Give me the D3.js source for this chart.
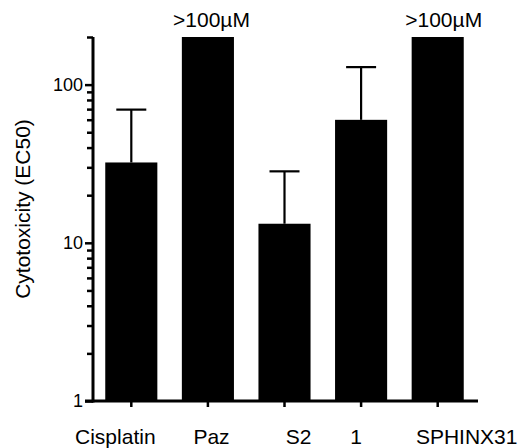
<!DOCTYPE html>
<html>
<head>
<meta charset="utf-8">
<script src="https://cdn.jsdelivr.net/npm/d3@7"></script>
<style>
html,body{margin:0;padding:0;background:#fff;}
svg{display:block;font-family:"Liberation Sans",Arial,sans-serif;}
</style>
</head>
<body>
<svg id="chart" width="520" height="448"></svg>
<script>
const categories = ["Cisplatin", "Paz", "S2", "1", "SPHINX31"];
const values = [32.2, 200, 13.2, 59.9, 200];
const errorTop = [69.5, null, 28.3, 129, null];
const overLabels = [null, ">100µM", null, null, ">100µM"];
const yTickValues = [1, 10, 100];
const yTitle = "Cytotoxicity (EC50)";

// label placement nudges (layout only)
const catLabelDx = [-16, 3.6, 14, -5, 29];
const overLabelDx = [0, 3.6, 0, 0, 6];

const svg = d3.select("#chart");
const x = d3.scaleBand().domain(categories).range([93, 476]).paddingInner(0.32).paddingOuter(0.16);
const y = d3.scaleLog().domain([1, 200]).range([401, 37]);

// bars
svg.selectAll("rect.bar").data(categories).enter().append("rect")
  .attr("x", d => x(d))
  .attr("width", x.bandwidth())
  .attr("y", (d, i) => y(values[i]))
  .attr("height", (d, i) => y(1) - y(values[i]))
  .attr("fill", "#000");

// error bars
const eb = svg.append("g").attr("stroke", "#000").attr("stroke-width", 2.2);
categories.forEach((c, i) => {
  if (errorTop[i] == null) return;
  const cx = x(c) + x.bandwidth() / 2;
  eb.append("line").attr("x1", cx).attr("x2", cx).attr("y1", y(values[i])).attr("y2", y(errorTop[i]));
  eb.append("line").attr("x1", cx - 15).attr("x2", cx + 15).attr("y1", y(errorTop[i])).attr("y2", y(errorTop[i]));
});

// over labels
categories.forEach((c, i) => {
  if (!overLabels[i]) return;
  svg.append("text").attr("x", x(c) + x.bandwidth() / 2 + overLabelDx[i]).attr("y", 27)
    .attr("text-anchor", "middle").attr("font-size", 21).attr("fill", "#000").text(overLabels[i]);
});

// y axis
const minor = [];
for (let dec = 1; dec <= 100; dec *= 10) for (let k = 2; k <= 9; k++) { const v = dec * k; if (v <= 200) minor.push(v); }
const yAxisG = svg.append("g").attr("transform", "translate(93,0)");
yAxisG.call(d3.axisLeft(y).tickValues(minor).tickSize(6).tickFormat(""));
yAxisG.append("g").call(d3.axisLeft(y).tickValues(yTickValues).tickSize(8).tickPadding(2).tickFormat(d3.format("d")));
yAxisG.selectAll(".domain").remove();
yAxisG.selectAll("line").attr("stroke", "#000").attr("stroke-width", 2.5);
yAxisG.selectAll("text").attr("font-size", 18).attr("fill", "#000").attr("font-family", "Liberation Sans, Arial, sans-serif");
svg.append("line").attr("x1", 93).attr("x2", 93).attr("y1", y(200)).attr("y2", y(1) + 1.5)
  .attr("stroke", "#000").attr("stroke-width", 3);

// x axis
const xAxisG = svg.append("g").attr("transform", "translate(0,401)");
xAxisG.call(d3.axisBottom(x).tickSize(6).tickPadding(22));
xAxisG.selectAll(".domain").remove();
xAxisG.selectAll("line").attr("stroke", "#000").attr("stroke-width", 2.5);
xAxisG.selectAll("text").attr("font-size", 21).attr("fill", "#000").attr("font-family", "Liberation Sans, Arial, sans-serif")
  .attr("dx", (d, i) => catLabelDx[i]);
svg.append("line").attr("x1", 85).attr("x2", 478).attr("y1", 401).attr("y2", 401)
  .attr("stroke", "#000").attr("stroke-width", 3);

// y title
svg.append("text").attr("transform", "translate(30,209) rotate(-90)")
  .attr("text-anchor", "middle").attr("font-size", 21).attr("fill", "#000").text(yTitle);
</script>
</body>
</html>
